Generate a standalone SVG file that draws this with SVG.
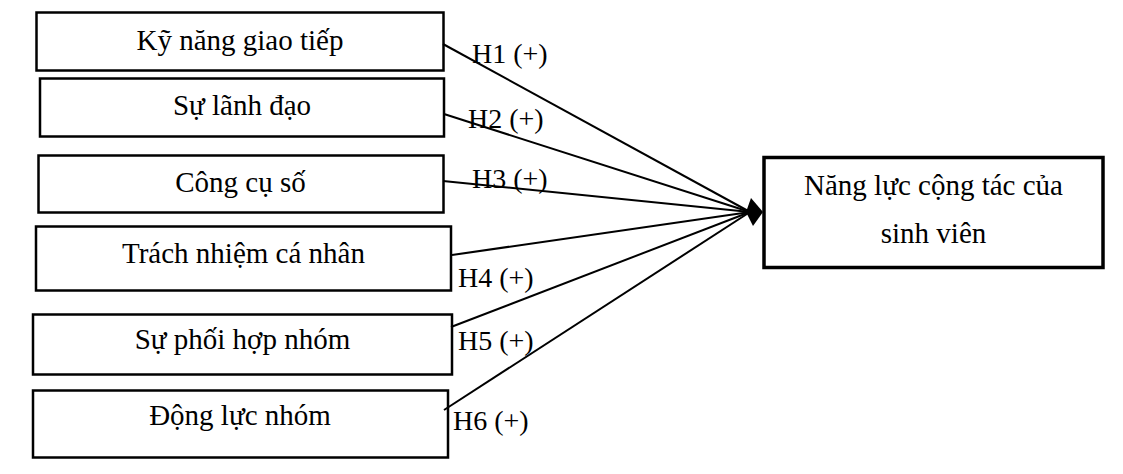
<svg xmlns="http://www.w3.org/2000/svg" width="1123" height="474" viewBox="0 0 1123 474">
<style>
.box{fill:#fff;stroke:#000;stroke-width:2.5}
.tbox{fill:#fff;stroke:#000;stroke-width:3.5}
.t{font-family:"Liberation Serif","Times New Roman",serif;font-size:29px;fill:#000}
.h{font-size:28px}
.c{text-anchor:middle}
.ln{stroke:#000;stroke-width:2;fill:none}
</style>
<rect width="1123" height="474" fill="#fff"/>
<g id="n1"><rect class="box" x="36.5" y="12.5" width="407" height="58"/><text class="t c" x="240" y="50">Kỹ năng giao tiếp</text></g>
<g id="n2"><rect class="box" x="40" y="78.5" width="404" height="58"/><text class="t c" x="242" y="115">Sự lãnh đạo</text></g>
<g id="n3"><rect class="box" x="38.5" y="155.5" width="405" height="57"/><text class="t c" x="240.5" y="192">Công cụ số</text></g>
<g id="n4"><rect class="box" x="36" y="226.5" width="415" height="64"/><text class="t c" x="243.5" y="263">Trách nhiệm cá nhân</text></g>
<g id="n5"><rect class="box" x="33" y="314.5" width="419" height="60"/><text class="t c" x="242.5" y="349">Sự phối hợp nhóm</text></g>
<g id="n6"><rect class="box" x="33" y="390.5" width="415" height="67"/><text class="t c" x="240" y="425">Động lực nhóm</text></g>
<g id="target"><rect class="tbox" x="764" y="157.5" width="339" height="110"/><text class="t c" x="933.5" y="195">Năng lực cộng tác của</text><text class="t c" x="933.5" y="243">sinh viên</text></g>
<g id="connectors">
<line class="ln" x1="443" y1="44" x2="750" y2="212"/>
<line class="ln" x1="444" y1="114" x2="750" y2="212"/>
<line class="ln" x1="443" y1="181" x2="750" y2="212"/>
<line class="ln" x1="452" y1="255" x2="750" y2="212"/>
<line class="ln" x1="451" y1="327" x2="750" y2="212"/>
<line class="ln" x1="444" y1="410" x2="750" y2="212"/>
<polygon points="746,212 751,198 763,212 753,226" fill="#000"/>
</g>
<g id="labels">
<text class="t h" x="472" y="63">H1 (+)</text>
<text class="t h" x="468" y="128">H2 (+)</text>
<text class="t h" x="472" y="188">H3 (+)</text>
<text class="t h" x="458" y="287">H4 (+)</text>
<text class="t h" x="458" y="350">H5 (+)</text>
<text class="t h" x="453" y="430">H6 (+)</text>
</g>
</svg>
